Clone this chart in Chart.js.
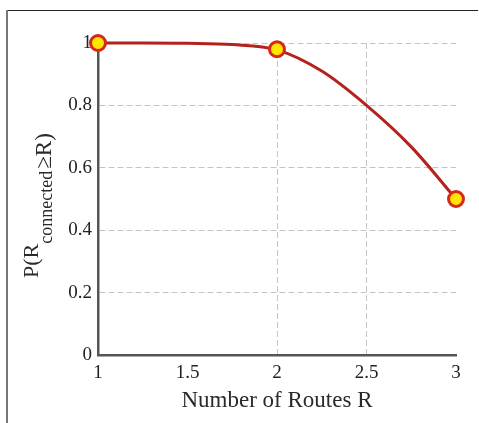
<!DOCTYPE html>
<html>
<head>
<meta charset="utf-8">
<script src="https://cdn.jsdelivr.net/npm/chart.js@4/dist/chart.umd.min.js"></script>
<style>
  html, body { margin: 0; padding: 0; background: #fff; overflow: hidden; }
  #wrap { position: relative; width: 479px; height: 423px; }
</style>
</head>
<body>
<div id="wrap">
  <canvas id="routesChart"></canvas>
</div>
<script>
// markers (simulated points)
const routeCounts = [1, 2, 3];
const probConnected = [1, 0.98, 0.5];

// smooth curve
const curveR = [1, 1.25, 1.5, 1.75, 2, 2.25, 2.5, 2.75, 3];
const curveP = [1, 1, 0.999, 0.995, 0.978, 0.91, 0.80, 0.667, 0.5];

const xTicks = [1, 1.5, 2, 2.5, 3];
const yTicks = [0, 0.2, 0.4, 0.6, 0.8, 1];

const serif = "'Liberation Serif', 'Times New Roman', serif";
const gridGray = '#c4c4c4';

// figure frame (top + left edge) and the y title with its subscript
const decorations = {
  id: 'decorations',
  beforeDraw(chart) {
    const c = chart.ctx;
    c.save();
    c.strokeStyle = '#222';
    c.lineWidth = 1;
    c.beginPath();
    c.moveTo(6, 10.5);
    c.lineTo(chart.width - 1, 10.5);
    c.stroke();
    c.strokeStyle = '#777';
    c.lineWidth = 2;
    c.beginPath();
    c.moveTo(7, 10);
    c.lineTo(7, chart.height);
    c.stroke();
    c.restore();
  },
  afterDraw(chart) {
    const c = chart.ctx;
    c.save();
    c.translate(38, 278);
    c.rotate(-Math.PI / 2);
    c.fillStyle = '#2a2a2a';
    c.textBaseline = 'alphabetic';
    c.textAlign = 'left';
    c.font = '22px ' + serif;
    c.fillText('P(R', 0, 0);
    let u = c.measureText('P(R').width;
    c.font = '18px ' + serif;
    c.fillText('connected', u, 14);
    u += c.measureText('connected').width + 2;
    c.font = '23px ' + serif;
    c.fillText('≥R)', u, 13);
    c.restore();
  }
};

const ctx = document.getElementById('routesChart');

new Chart(ctx, {
  type: 'line',
  data: {
    datasets: [{
      data: routeCounts.map((r, i) => ({x: r, y: probConnected[i]})),
      showLine: false,
      pointRadius: 7.5,
      pointBorderWidth: 3,
      pointBackgroundColor: '#ffe600',
      pointBorderColor: '#d8261c',
      clip: false,
      order: 0
    }, {
      data: curveR.map((r, i) => ({x: r, y: curveP[i]})),
      borderColor: '#b3221c',
      borderWidth: 3,
      pointRadius: 0,
      cubicInterpolationMode: 'monotone',
      clip: false,
      order: 1
    }]
  },
  options: {
    responsive: true,
    maintainAspectRatio: false,
    animation: false,
    layout: { padding: { left: 0, right: 23, top: 43, bottom: 0 } },
    plugins: { legend: { display: false }, tooltip: { enabled: false } },
    scales: {
      x: {
        type: 'linear',
        min: 1, max: 3,
        afterFit: s => { s.height = 68; },
        afterBuildTicks: s => { s.ticks = xTicks.map(v => ({value: v})); },
        border: { display: true, color: '#555', width: 2.5, dash: [6, 3] },
        grid: {
          drawTicks: false,
          color: c => (c.tick && (c.tick.value === 2 || c.tick.value === 2.5)) ? gridGray : 'rgba(0,0,0,0)'
        },
        ticks: {
          padding: 7, maxRotation: 0, autoSkip: false, color: '#222',
          font: { family: serif, size: 19 },
          callback: v => String(v)
        },
        title: {
          display: true, text: 'Number of Routes R', color: '#2a2a2a',
          font: { family: serif, size: 23 },
          padding: { top: 0, bottom: 8 }
        }
      },
      y: {
        min: 0, max: 1,
        afterFit: s => { s.width = 98; },
        afterBuildTicks: s => { s.ticks = yTicks.map(v => ({value: v})); },
        border: { display: true, color: '#555', width: 2.5, dash: [6, 3] },
        grid: {
          drawTicks: false,
          color: c => (c.tick && c.tick.value > 0) ? gridGray : 'rgba(0,0,0,0)'
        },
        ticks: {
          padding: 6, color: '#222',
          font: { family: serif, size: 19 },
          callback: v => String(+v.toFixed(1))
        }
      }
    }
  },
  plugins: [decorations]
});
</script>
</body>
</html>
